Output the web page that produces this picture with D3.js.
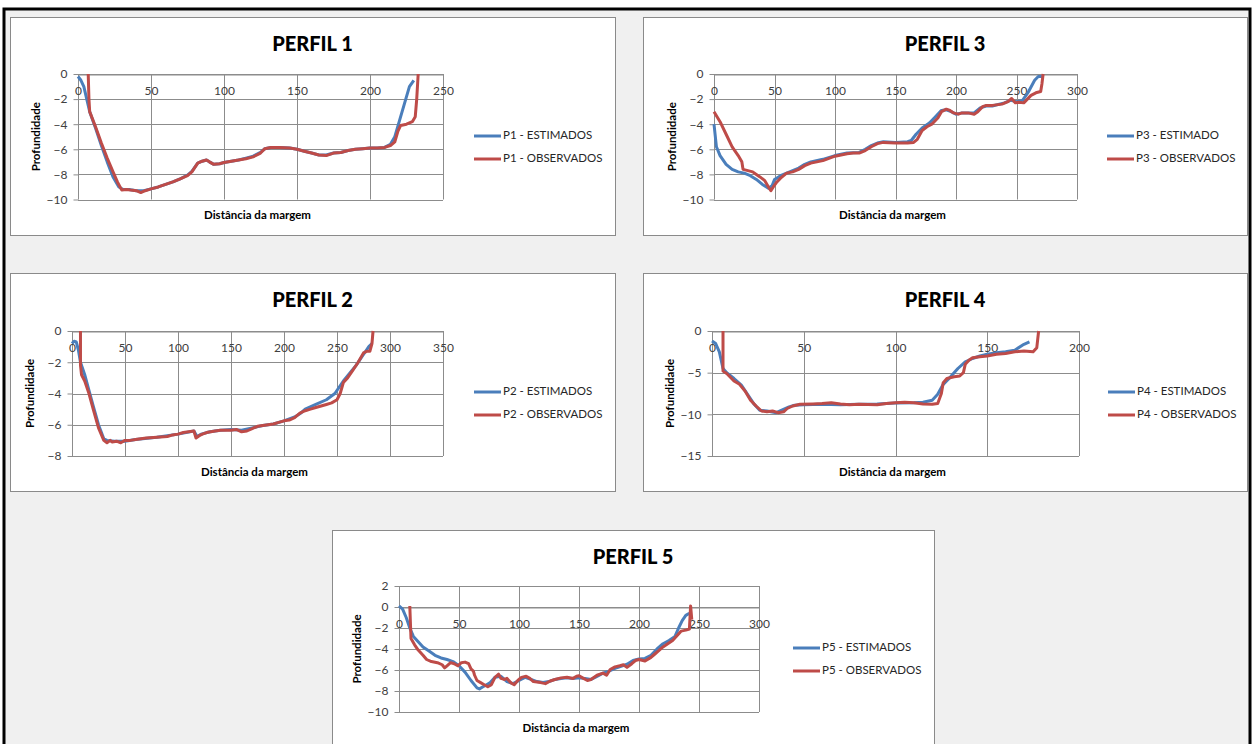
<!DOCTYPE html>
<html><head><meta charset="utf-8">
<script src="https://cdn.jsdelivr.net/npm/d3@7"></script>
<style>
html,body{margin:0;padding:0;background:#fff;}
svg{display:block;}
text{font-family:Lato,"Open Sans",sans-serif;}
</style></head>
<body>
<svg id="c" width="1255" height="744"></svg>
<script>
// ---------- DATA ----------
const p1Titles = ["PERFIL 1"];
const p1Names = ["P1 - ESTIMADOS", "P1 - OBSERVADOS"];
const p1XTicks = [0, 50, 100, 150, 200, 250];
const p1YTicks = [0, -2, -4, -6, -8, -10];
const p1Est = [[0,-0.2],[2,-0.5],[4,-1.0],[6,-2.0],[8,-3.0],[12,-4.3],[16,-5.7],[20,-7.0],[24,-8.2],[28,-9.0],[31,-9.2],[35,-9.2],[40,-9.3],[45,-9.3],[50,-9.15],[55,-9.0],[60,-8.8],[65,-8.6],[70,-8.35],[75,-8.05],[78,-7.75],[82,-7.1],[85,-6.95],[88,-6.85],[90,-7.0],[93,-7.2],[97,-7.15],[100,-7.05],[105,-6.95],[110,-6.85],[115,-6.7],[120,-6.55],[125,-6.25],[128,-5.95],[132,-5.85],[138,-5.85],[145,-5.9],[150,-6.0],[155,-6.15],[160,-6.3],[165,-6.45],[170,-6.45],[175,-6.3],[180,-6.25],[185,-6.1],[190,-6.0],[195,-5.95],[200,-5.9],[205,-5.9],[210,-5.85],[214,-5.6],[217,-5.0],[220,-3.8],[224,-2.2],[227,-1.0],[230,-0.5]];
const p1Obs = [[7,0],[7.5,-2.0],[8,-3.0],[12,-4.2],[16,-5.5],[20,-6.7],[24,-7.8],[27,-8.6],[30,-9.25],[33,-9.2],[36,-9.25],[40,-9.3],[43,-9.45],[46,-9.3],[50,-9.15],[55,-9.0],[60,-8.8],[65,-8.6],[70,-8.35],[75,-8.1],[78,-7.8],[82,-7.1],[85,-6.95],[88,-6.85],[90,-7.0],[93,-7.2],[97,-7.15],[100,-7.05],[105,-6.95],[110,-6.85],[115,-6.75],[120,-6.6],[125,-6.3],[128,-5.95],[132,-5.85],[138,-5.85],[145,-5.9],[150,-6.0],[155,-6.15],[160,-6.3],[165,-6.45],[170,-6.5],[175,-6.3],[180,-6.25],[185,-6.1],[190,-6.0],[195,-5.95],[200,-5.9],[205,-5.9],[210,-5.85],[214,-5.7],[217,-5.4],[219,-4.6],[221,-4.1],[225,-4.0],[229,-3.8],[231,-3.4],[232,-2.0],[233,0]];

const p2Titles = ["PERFIL 2"];
const p2Names = ["P2 - ESTIMADOS", "P2 - OBSERVADOS"];
const p2XTicks = [0, 50, 100, 150, 200, 250, 300, 350];
const p2YTicks = [0, -2, -4, -6, -8];
const p2Est = [[0,-0.8],[2,-0.65],[4,-0.7],[6,-1.2],[8,-2.0],[12,-2.8],[16,-3.8],[20,-4.8],[25,-6.0],[30,-6.9],[33,-7.0],[40,-7.05],[50,-7.05],[60,-6.95],[80,-6.8],[100,-6.6],[115,-6.4],[118,-6.75],[122,-6.6],[130,-6.45],[140,-6.35],[150,-6.3],[160,-6.35],[170,-6.2],[180,-6.05],[190,-5.95],[200,-5.75],[210,-5.5],[215,-5.3],[220,-5.0],[230,-4.7],[240,-4.4],[248,-4.0],[252,-3.6],[256,-3.2],[262,-2.7],[268,-2.2],[274,-1.6],[280,-1.0],[283,-0.8]];
const p2Obs = [[8,0],[8,-2.2],[9,-2.8],[12,-3.2],[16,-4.0],[20,-5.0],[25,-6.2],[30,-7.0],[33,-7.15],[36,-7.0],[38,-7.1],[42,-7.05],[46,-7.15],[50,-7.0],[55,-7.0],[60,-6.95],[65,-6.9],[70,-6.85],[80,-6.8],[90,-6.75],[95,-6.65],[100,-6.6],[105,-6.5],[110,-6.45],[115,-6.4],[117,-6.85],[120,-6.7],[123,-6.6],[127,-6.5],[135,-6.4],[140,-6.35],[150,-6.35],[155,-6.3],[160,-6.45],[165,-6.4],[170,-6.25],[175,-6.1],[180,-6.05],[190,-5.95],[195,-5.85],[200,-5.75],[205,-5.7],[210,-5.55],[215,-5.25],[220,-5.1],[225,-5.0],[230,-4.9],[240,-4.7],[245,-4.6],[250,-4.4],[253,-4.0],[256,-3.3],[260,-3.0],[265,-2.5],[270,-2.0],[275,-1.4],[278,-1.3],[281,-1.3],[283,-0.8],[284,0]];

const p3Titles = ["PERFIL 3"];
const p3Names = ["P3 - ESTIMADO", "P3 - OBSERVADOS"];
const p3XTicks = [0, 50, 100, 150, 200, 250, 300];
const p3YTicks = [0, -2, -4, -6, -8, -10];
const p3Est = [[0,-4.0],[2,-5.8],[5,-6.5],[10,-7.2],[15,-7.6],[20,-7.8],[25,-7.9],[30,-8.1],[35,-8.4],[40,-8.8],[45,-9.1],[48,-8.9],[50,-8.4],[55,-8.1],[60,-7.9],[70,-7.5],[75,-7.2],[80,-7.0],[90,-6.8],[100,-6.5],[110,-6.3],[120,-6.25],[125,-6.0],[130,-5.7],[135,-5.5],[140,-5.4],[150,-5.45],[160,-5.4],[163,-5.3],[167,-4.8],[172,-4.3],[178,-3.9],[183,-3.4],[188,-2.9],[192,-2.85],[196,-3.0],[200,-3.2],[205,-3.1],[210,-3.1],[215,-3.1],[220,-2.7],[225,-2.55],[230,-2.55],[240,-2.3],[245,-2.1],[250,-2.2],[255,-2.1],[260,-1.4],[265,-0.5],[268,-0.2],[271,-0.2]];
const p3Obs = [[0,-3.0],[5,-3.8],[10,-4.8],[15,-5.8],[20,-6.5],[23,-7.0],[24,-7.6],[28,-7.7],[32,-7.8],[35,-8.0],[38,-8.2],[42,-8.5],[45,-9.0],[47,-9.3],[49,-9.0],[52,-8.6],[55,-8.3],[60,-7.9],[65,-7.8],[70,-7.6],[75,-7.3],[80,-7.1],[85,-7.0],[90,-6.9],[100,-6.55],[110,-6.35],[115,-6.3],[120,-6.3],[125,-6.1],[130,-5.8],[135,-5.55],[140,-5.45],[150,-5.5],[160,-5.5],[165,-5.45],[168,-5.2],[172,-4.5],[176,-4.2],[180,-4.0],[185,-3.5],[188,-3.0],[192,-2.8],[195,-2.9],[198,-3.1],[202,-3.2],[205,-3.1],[210,-3.1],[215,-3.2],[218,-3.0],[222,-2.6],[225,-2.5],[230,-2.5],[238,-2.4],[243,-2.2],[246,-1.95],[249,-2.3],[252,-2.25],[256,-2.3],[262,-1.7],[266,-1.5],[270,-1.4],[271,-0.8],[272,0]];

const p4Titles = ["PERFIL 4"];
const p4Names = ["P4 - ESTIMADOS", "P4 - OBSERVADOS"];
const p4XTicks = [0, 50, 100, 150, 200];
const p4YTicks = [0, -5, -10, -15];
const p4Est = [[0,-1.2],[2,-1.5],[4,-2.5],[6,-4.5],[8,-5.0],[12,-5.7],[16,-6.5],[20,-7.8],[23,-8.8],[26,-9.5],[30,-9.6],[35,-9.8],[38,-9.5],[42,-9.1],[45,-8.9],[50,-8.85],[60,-8.8],[70,-8.85],[80,-8.8],[90,-8.75],[100,-8.65],[110,-8.6],[115,-8.55],[120,-8.3],[123,-7.6],[126,-6.4],[130,-5.5],[134,-4.5],[138,-3.7],[142,-3.3],[146,-3.0],[150,-2.8],[155,-2.6],[160,-2.5],[165,-2.3],[170,-1.6],[173,-1.3]];
const p4Obs = [[6,0],[6,-4.8],[8,-5.1],[12,-6.0],[15,-6.4],[18,-7.2],[21,-8.3],[24,-9.0],[27,-9.6],[30,-9.7],[33,-9.6],[36,-9.8],[39,-9.7],[41,-9.3],[44,-9.0],[48,-8.8],[55,-8.75],[60,-8.7],[65,-8.6],[70,-8.75],[75,-8.85],[80,-8.8],[90,-8.85],[95,-8.7],[100,-8.6],[105,-8.55],[110,-8.6],[115,-8.75],[120,-8.8],[123,-8.7],[125,-7.5],[126,-6.2],[128,-5.7],[132,-5.5],[135,-5.4],[137,-5.0],[138,-4.0],[140,-3.5],[142,-3.2],[146,-3.1],[150,-3.0],[155,-2.8],[160,-2.7],[165,-2.5],[170,-2.4],[175,-2.5],[177,-2.0],[178,0]];

const p5Titles = ["PERFIL 5"];
const p5Names = ["P5 - ESTIMADOS", "P5 - OBSERVADOS"];
const p5XTicks = [0, 50, 100, 150, 200, 250, 300];
const p5YTicks = [2, 0, -2, -4, -6, -8, -10];
const p5Est = [[0,0.1],[3,-0.2],[6,-1.0],[9,-2.0],[12,-2.8],[16,-3.3],[20,-3.8],[25,-4.2],[30,-4.6],[35,-4.85],[40,-5.0],[45,-5.2],[50,-5.6],[55,-6.2],[60,-7.0],[65,-7.7],[67,-7.8],[70,-7.6],[73,-7.4],[76,-7.2],[80,-6.7],[85,-6.6],[90,-7.1],[95,-7.3],[100,-7.0],[105,-6.7],[110,-6.9],[115,-7.1],[120,-7.2],[125,-7.1],[130,-6.9],[135,-6.8],[140,-6.75],[145,-6.8],[150,-6.75],[155,-6.8],[160,-6.9],[165,-6.6],[170,-6.3],[175,-6.1],[180,-5.85],[185,-5.65],[190,-5.45],[195,-5.1],[200,-4.95],[205,-4.9],[210,-4.6],[215,-4.0],[220,-3.5],[225,-3.2],[230,-2.8],[233,-2.0],[236,-1.3],[239,-0.8],[242,-0.6]];
const p5Obs = [[9,0.1],[10,-3.0],[13,-3.6],[16,-4.1],[20,-4.6],[23,-5.0],[27,-5.2],[32,-5.3],[36,-5.5],[38,-5.8],[40,-5.6],[43,-5.3],[46,-5.4],[49,-5.6],[52,-5.3],[55,-5.25],[58,-5.4],[60,-5.9],[62,-6.1],[63,-6.5],[65,-7.0],[68,-7.2],[71,-7.4],[74,-7.6],[77,-7.4],[80,-6.7],[83,-6.4],[85,-6.8],[88,-6.9],[90,-6.8],[93,-7.2],[96,-7.4],[99,-7.0],[102,-6.7],[106,-6.6],[109,-6.8],[112,-7.1],[118,-7.2],[122,-7.3],[126,-7.05],[130,-6.9],[135,-6.75],[140,-6.7],[145,-6.8],[148,-6.6],[150,-6.55],[153,-6.75],[157,-7.0],[160,-6.9],[165,-6.5],[170,-6.3],[173,-6.5],[176,-5.95],[180,-5.7],[184,-5.6],[187,-5.5],[190,-5.75],[194,-5.4],[197,-5.1],[200,-5.0],[205,-5.15],[210,-4.8],[213,-4.5],[216,-4.2],[220,-3.8],[224,-3.5],[228,-3.2],[232,-2.7],[235,-2.3],[239,-2.2],[242,-2.1],[243,0.1],[244,-1.2]];

const xTitle = "Distância da margem";
const yTitle = "Profundidade";
const colors = ["#4A7EBB", "#BE4B48"];

// ---------- LAYOUT ----------
const panels = [
  {title:p1Titles[0], names:p1Names, xt:p1XTicks, yt:p1YTicks, series:[p1Est,p1Obs], box:[10,17,605,218], px:[78,443], py:[74,199.5], legX:474, legY:[136,159]},
  {title:p3Titles[0], names:p3Names, xt:p3XTicks, yt:p3YTicks, series:[p3Est,p3Obs], box:[643,17,604,218], px:[714,1077], py:[74,199.5], legX:1107, legY:[136,159]},
  {title:p2Titles[0], names:p2Names, xt:p2XTicks, yt:p2YTicks, series:[p2Est,p2Obs], box:[10,273,605,218], px:[72,443], py:[331,456], legX:474, legY:[392,415]},
  {title:p4Titles[0], names:p4Names, xt:p4XTicks, yt:p4YTicks, series:[p4Est,p4Obs], box:[643,273,604,218], px:[712,1079], py:[331,456], legX:1108, legY:[392,415]},
  {title:p5Titles[0], names:p5Names, xt:p5XTicks, yt:p5YTicks, series:[p5Est,p5Obs], box:[332,530,602,240], px:[399,759], py:[586,712], legX:793, legY:[648,671]}
];

const svg = d3.select("#c");
svg.append("rect").attr("x",4).attr("y",9).attr("width",1246).attr("height",760)
  .attr("fill","#f0f0f0").attr("stroke","#000").attr("stroke-width",3);

const gridC = "#8c8c8c";
panels.forEach(p => {
  const g = svg.append("g");
  const [bx,by,bw,bh] = p.box;
  g.append("rect").attr("x",bx+0.5).attr("y",by+0.5).attr("width",bw).attr("height",bh)
    .attr("fill","#fff").attr("stroke","#8a8a8a").attr("stroke-width",1);
  g.append("text").attr("x",bx+bw/2).attr("y",by+29).attr("text-anchor","middle")
    .attr("dominant-baseline","middle").attr("font-size",20).attr("font-weight",900)
    .attr("fill","#000").text(p.title);

  const xs = d3.scaleLinear().domain([p.xt[0], p.xt[p.xt.length-1]]).range(p.px);
  const ys = d3.scaleLinear().domain([d3.min(p.yt), d3.max(p.yt)]).range([p.py[1], p.py[0]]);

  const yAxis = d3.axisLeft(ys).tickValues(p.yt).tickSize(5).tickPadding(6).tickFormat(d3.format("d"));
  const ya = g.append("g").attr("transform",`translate(${Math.round(xs(0))+0.5},0)`).call(yAxis);
  ya.select(".domain").attr("stroke",gridC).attr("d",`M0,${ys(d3.min(p.yt))}V${ys(d3.max(p.yt))}`);
  ya.selectAll(".tick line").attr("stroke",gridC);
  ya.selectAll(".tick text").attr("font-size",12).attr("fill","#404040").attr("font-family","Lato, sans-serif");
  g.append("g").selectAll("line").data(p.yt).join("line")
    .attr("x1",xs(0)).attr("x2",xs(p.xt[p.xt.length-1]))
    .attr("y1",d=>Math.round(ys(d))+0.5).attr("y2",d=>Math.round(ys(d))+0.5)
    .attr("stroke",gridC).attr("stroke-width",1);
  g.append("g").selectAll("line").data(p.xt.slice(1)).join("line")
    .attr("x1",d=>Math.round(xs(d))+0.5).attr("x2",d=>Math.round(xs(d))+0.5)
    .attr("y1",ys(d3.max(p.yt))).attr("y2",ys(d3.min(p.yt)))
    .attr("stroke",gridC).attr("stroke-width",1);
  const xAxis = d3.axisBottom(xs).tickValues(p.xt).tickSize(0).tickPadding(12).tickFormat(d3.format("d"));
  const xa = g.append("g").attr("transform",`translate(0,${Math.round(ys(0))+0.5})`).call(xAxis);
  xa.select(".domain").attr("stroke",gridC);
  xa.selectAll(".tick text").attr("font-size",12).attr("fill","#404040").attr("font-family","Lato, sans-serif");

  g.append("text").attr("x",(p.px[0]+p.px[1])/2 - 3).attr("y",p.py[1]+17)
    .attr("text-anchor","middle").attr("dominant-baseline","middle")
    .attr("font-size",11.5).attr("font-weight",700).attr("fill","#000").text(xTitle);
  g.append("text").attr("transform",`translate(${p.px[0]-41},${(p.py[0]+p.py[1])/2}) rotate(-90)`)
    .attr("text-anchor","middle").attr("dominant-baseline","middle")
    .attr("font-size",11.5).attr("font-weight",700).attr("fill","#000").text(yTitle);

  const line = d3.line().x(d=>xs(d[0])).y(d=>ys(d[1])).curve(d3.curveLinear);
  p.series.forEach((s,i) => {
    g.append("path").datum(s).attr("d",line).attr("fill","none")
      .attr("stroke",colors[i]).attr("stroke-width",3)
      .attr("stroke-linejoin","round").attr("stroke-linecap","butt");
  });

  p.names.forEach((n,i) => {
    g.append("line").attr("x1",p.legX).attr("x2",p.legX+27)
      .attr("y1",p.legY[i]).attr("y2",p.legY[i])
      .attr("stroke",colors[i]).attr("stroke-width",3);
    g.append("text").attr("x",p.legX+29).attr("y",p.legY[i]).attr("dominant-baseline","middle")
      .attr("font-size",11.5).attr("fill","#262626").text(n);
  });
});
</script>
</body></html>
